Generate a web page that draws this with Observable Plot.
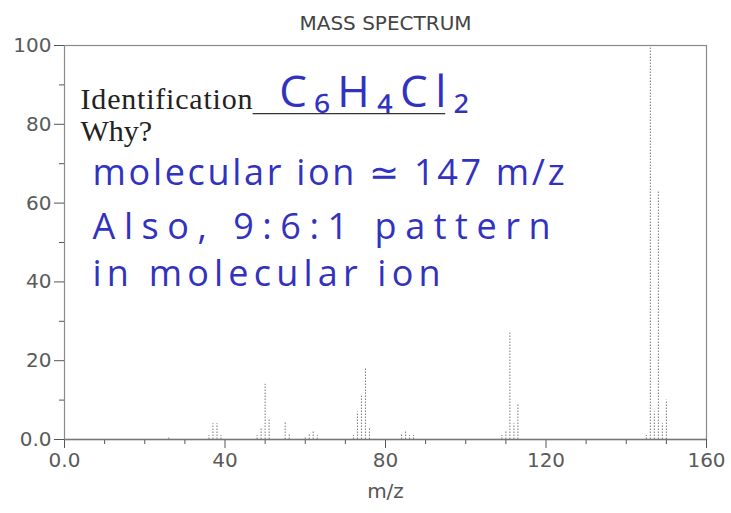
<!DOCTYPE html>
<html>
<head>
<meta charset="utf-8">
<script src="https://cdn.jsdelivr.net/npm/d3@7"></script>
<script src="https://cdn.jsdelivr.net/npm/@observablehq/plot@0.6"></script>
<style>
  html, body { margin: 0; padding: 0; background: #fff; }
  #chart svg { display: block; }
</style>
</head>
<body>
<div id="chart"></div>
<script>
// Peak positions (m/z) and relative intensities
const mz        = [26, 36, 37, 38, 39, 48, 49, 50, 51, 55, 56, 60, 61, 62, 63, 72, 73, 74, 75, 76, 84, 85, 86, 87, 109, 110, 111, 112, 113, 145, 146, 147, 148, 149, 150];
const intensity = [0.5, 1, 4, 4, 1, 1, 3, 14, 5, 4.5, 1.5, 0.5, 1.5, 2, 1, 1, 7, 11, 18, 3, 1.5, 2, 1, 1, 1, 2, 27, 4, 9, 1, 100, 7, 63, 4, 10];

const xTicksMajor = [0, 40, 80, 120, 160];
const xTicksMinor = [10, 20, 30, 50, 60, 70, 90, 100, 110, 130, 140, 150];
const yTicksMajor = [0, 20, 40, 60, 80, 100];
const yTicksMinor = [10, 30, 50, 70, 90];

const title = "MASS SPECTRUM";
const xLabel = "m/z";

// Handwritten / printed worksheet annotations (anchored in data units)
const notesText  = ["Identification", "Why?", "C\u2086H\u2084Cl\u2082", "molecular ion \u2243 147 m/z", "Also, 9:6:1 pattern", "in molecular ion"];
const notesX     = [4, 4, 53.5, 7, 7, 7];
const notesY     = [84, 75.8, 84.5, 64.5, 51, 39];
const notesKind  = ["print", "print", "hand-big", "hand", "hand", "hand"];
const underline  = {x1: 47, x2: 95, y: 82.7};

const peaks = mz.map((m, i) => ({mz: m, value: intensity[i]}));
const notes = notesText.map((t, i) => ({text: t, x: notesX[i], y: notesY[i], kind: notesKind[i]}));

// rendering style: stretched handwriting widths (px)
const handWidths = {"C\u2086H\u2084Cl\u2082": 190, "molecular ion \u2243 147 m/z": 472, "Also, 9:6:1 pattern": 458, "in molecular ion": 348, "Identification": 172};

const axisColor = "#555";
const fmt = d => d === 0 ? "0.0" : String(d);
const handFont = "'Open Sans', sans-serif";
const printFont = "'Liberation Serif', 'DejaVu Serif', serif";

const chart = Plot.plot({
  width: 731,
  height: 513,
  marginLeft: 64,
  marginRight: 25,
  marginTop: 45,
  marginBottom: 74,
  style: {fontFamily: "'DejaVu Sans', sans-serif", fontSize: "20px", color: axisColor, background: "#fff"},
  x: {domain: [0, 160]},
  y: {domain: [0, 100]},
  marks: [
    Plot.frame({stroke: "#8a8a8a", strokeWidth: 1.2}),
    // minor ticks
    Plot.axisX(xTicksMinor, {tickSize: 5, tickFormat: () => "", stroke: axisColor}),
    Plot.axisY(yTicksMinor, {tickSize: 5, tickFormat: () => "", stroke: axisColor}),
    // major ticks
    Plot.axisX(xTicksMajor, {tickSize: 9, tickPadding: 4, tickFormat: fmt, stroke: axisColor, fill: "#5a5a5a", fontSize: 20, label: null}),
    Plot.axisY(yTicksMajor, {tickSize: 10, tickPadding: 3, tickFormat: fmt, stroke: axisColor, fill: "#5a5a5a", fontSize: 20, label: null}),
    // peaks
    Plot.ruleX(peaks, {x: "mz", y1: 0, y2: "value", stroke: "#7a7a7a", strokeWidth: 1, strokeDasharray: "1.5,1.5"}),
    Plot.ruleY([0], {stroke: "#777", strokeWidth: 1.3}),
    // annotations
    Plot.ruleY([underline], {x1: "x1", x2: "x2", y: "y", stroke: "#333", strokeWidth: 1.2}),
    Plot.text(notes.filter(d => d.kind === "print"), {x: "x", y: "y", text: "text", textAnchor: "start", lineAnchor: "bottom", fontFamily: printFont, fontSize: 30, fill: "#222", className: "note"}),
    Plot.text(notes.filter(d => d.kind === "hand-big"), {x: "x", y: "y", text: "text", textAnchor: "start", lineAnchor: "bottom", fontFamily: handFont, fontSize: 44, fill: "#3232c0", className: "note"}),
    Plot.text(notes.filter(d => d.kind === "hand"), {x: "x", y: "y", text: "text", textAnchor: "start", lineAnchor: "bottom", fontFamily: handFont, fontSize: 36, fill: "#3232c0", className: "note"}),
    // title and x label
    Plot.text([title], {frameAnchor: "top", dy: -30, fontSize: 20, fill: "#444"}),
    Plot.text([xLabel], {frameAnchor: "bottom", dy: 58, fontSize: 20, fill: axisColor})
  ]
});
d3.select(chart).selectAll("g.note text").each(function() {
  const t = this.textContent;
  if (handWidths[t]) {
    this.setAttribute("textLength", handWidths[t]);
    this.setAttribute("lengthAdjust", "spacing");
  }
});
document.getElementById("chart").appendChild(chart);
</script>
</body>
</html>
